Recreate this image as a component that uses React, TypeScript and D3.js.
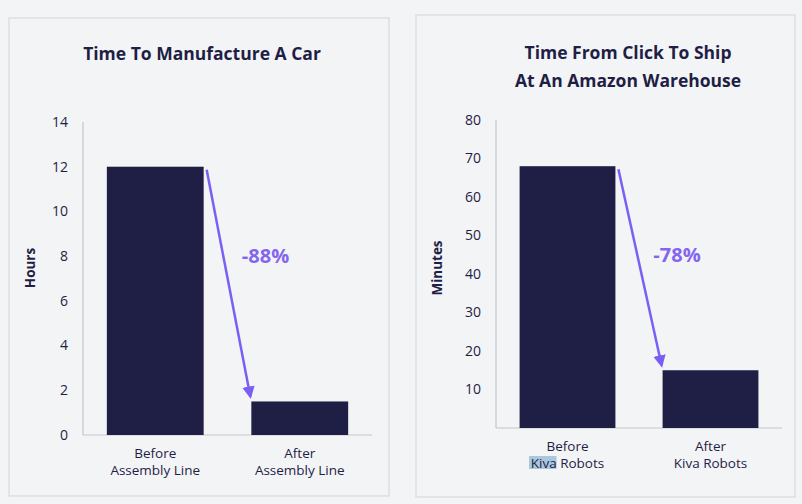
import React from "react";
import * as d3 from "d3";

// left panel data
const carCategories = ["Before|Assembly Line", "After|Assembly Line"];
const carHours = [12, 1.5];
const carTicks = [0, 2, 4, 6, 8, 10, 12, 14];

// right panel data
const shipCategories = ["Before|Kiva Robots", "After|Kiva Robots"];
const shipMinutes = [68, 15];
const shipTicks = [10, 20, 30, 40, 50, 60, 70, 80];

const NAVY = "#1f1e45";
const PURPLE = "#7b5ff5";
const FONT = "'Open Sans', Lato, sans-serif";

interface PanelProps {
  box: { x: number; y: number; w: number; h: number };
  titleLines: string[];
  titleX: number;
  titleY: number;
  categories: string[];
  values: number[];
  ticks: number[];
  yMax: number;
  yLabel: string;
  plot: { left: number; right: number; top: number; bottom: number };
  change: string;
  highlightFirstWord?: boolean;
  labelY: number;
  id: string;
}

const Panel: React.FC<PanelProps> = ({
  box,
  titleLines,
  titleX,
  titleY,
  categories,
  values,
  ticks,
  yMax,
  yLabel,
  plot,
  change,
  highlightFirstWord,
  labelY,
  id,
}) => {
  const x = d3
    .scaleBand<string>()
    .domain(categories)
    .range([plot.left, plot.right])
    .paddingInner(0.33)
    .paddingOuter(0.165);
  const y = d3.scaleLinear().domain([0, yMax]).range([plot.bottom, plot.top]);

  const bw = x.bandwidth();
  const x0 = x(categories[0])!;
  const x1 = x(categories[1])!;
  // arrow from top-right of first bar to top-left of second bar
  const ax1 = x0 + bw + 3;
  const ay1 = y(values[0]) + 3;
  const ax2 = x1 - 1;
  const ay2 = y(values[1]) - 5;

  return (
    <g>
      <rect
        x={box.x}
        y={box.y}
        width={box.w}
        height={box.h}
        fill="#f3f4f6"
        stroke="#d2d3d6"
        strokeWidth={1}
      />
      {titleLines.map((t, i) => (
        <text
          key={t}
          x={titleX}
          y={titleY + i * 28}
          textAnchor="middle"
          fontFamily={FONT}
          fontWeight={700}
          fontSize={17.5}
          fill={NAVY}
        >
          {t}
        </text>
      ))}
      {/* axes */}
      <line x1={plot.left} x2={plot.left} y1={plot.top} y2={plot.bottom} stroke="#c4c5cc" strokeWidth={1.2} />
      <line x1={plot.left} x2={plot.right} y1={plot.bottom} y2={plot.bottom} stroke="#c4c5cc" strokeWidth={1.2} />
      {ticks.map((t) => (
        <text
          key={t}
          x={plot.left - 15}
          y={y(t)}
          dy="0.35em"
          textAnchor="end"
          fontFamily={FONT}
          fontSize={14}
          fill={NAVY}
        >
          {t}
        </text>
      ))}
      <text
        transform={`translate(${box.x + 21},268) rotate(-90)`}
        textAnchor="middle"
        dy="0.35em"
        fontFamily={FONT}
        fontWeight={700}
        fontSize={13.5}
        fill={NAVY}
      >
        {yLabel}
      </text>
      {categories.map((c, i) => (
        <rect
          key={c}
          x={x(c)}
          y={y(values[i])}
          width={bw}
          height={y(0) - y(values[i])}
          fill={NAVY}
        />
      ))}
      {categories.map((c, i) => {
        const [l1, l2] = c.split("|");
        const cx = x(c)! + bw / 2;
        return (
          <g key={c}>
            {i === 0 && highlightFirstWord && (
              <rect x={cx - 38.5} y={labelY + 9} width={27.5} height={13} fill="#a9c7dd" />
            )}
            <text x={cx} y={labelY - 0.5} dy="0.35em" textAnchor="middle" fontFamily={FONT} fontSize={13.5} fill={NAVY}>
              {l1}
            </text>
            <text x={cx} y={labelY + 16.5} dy="0.35em" textAnchor="middle" fontFamily={FONT} fontSize={13.5} fill={NAVY}>
              {l2}
            </text>
          </g>
        );
      })}
      <defs>
        <marker id={id} viewBox="0 0 10 10" refX={8} refY={5} markerWidth={5} markerHeight={5} orient="auto">
          <path d="M0,0 L10,5 L0,10 z" fill={PURPLE} />
        </marker>
      </defs>
      <line x1={ax1} y1={ay1} x2={ax2} y2={ay2} stroke={PURPLE} strokeWidth={2.5} markerEnd={`url(#${id})`} />
      <text
        x={(ax1 + ax2) / 2 + 37}
        y={y(values[0]) + 96}
        textAnchor="middle"
        fontFamily={FONT}
        fontWeight={700}
        fontSize={20}
        fill="#8466ee"
      >
        {change}
      </text>
    </g>
  );
};

const App: React.FC = () => (
  <svg width={802} height={504} style={{ position: "absolute", left: 0, top: 0, background: "#f3f4f6" }}>
    <Panel
      id="arrL"
      box={{ x: 9, y: 18, w: 380, h: 478 }}
      titleLines={["Time To Manufacture A Car"]}
      titleX={202}
      titleY={60}
      categories={carCategories}
      values={carHours}
      ticks={carTicks}
      yMax={14}
      yLabel="Hours"
      plot={{ left: 83, right: 372, top: 122, bottom: 435 }}
      change="-88%"
      labelY={454}
    />
    <Panel
      id="arrR"
      box={{ x: 416, y: 15, w: 379, h: 482 }}
      titleLines={["Time From Click To Ship", "At An Amazon Warehouse"]}
      titleX={628}
      titleY={59}
      categories={shipCategories}
      values={shipMinutes}
      ticks={shipTicks}
      yMax={80}
      yLabel="Minutes"
      plot={{ left: 496, right: 782, top: 120, bottom: 428 }}
      change="-78%"
      highlightFirstWord
      labelY={447}
    />
  </svg>
);

export default App;
